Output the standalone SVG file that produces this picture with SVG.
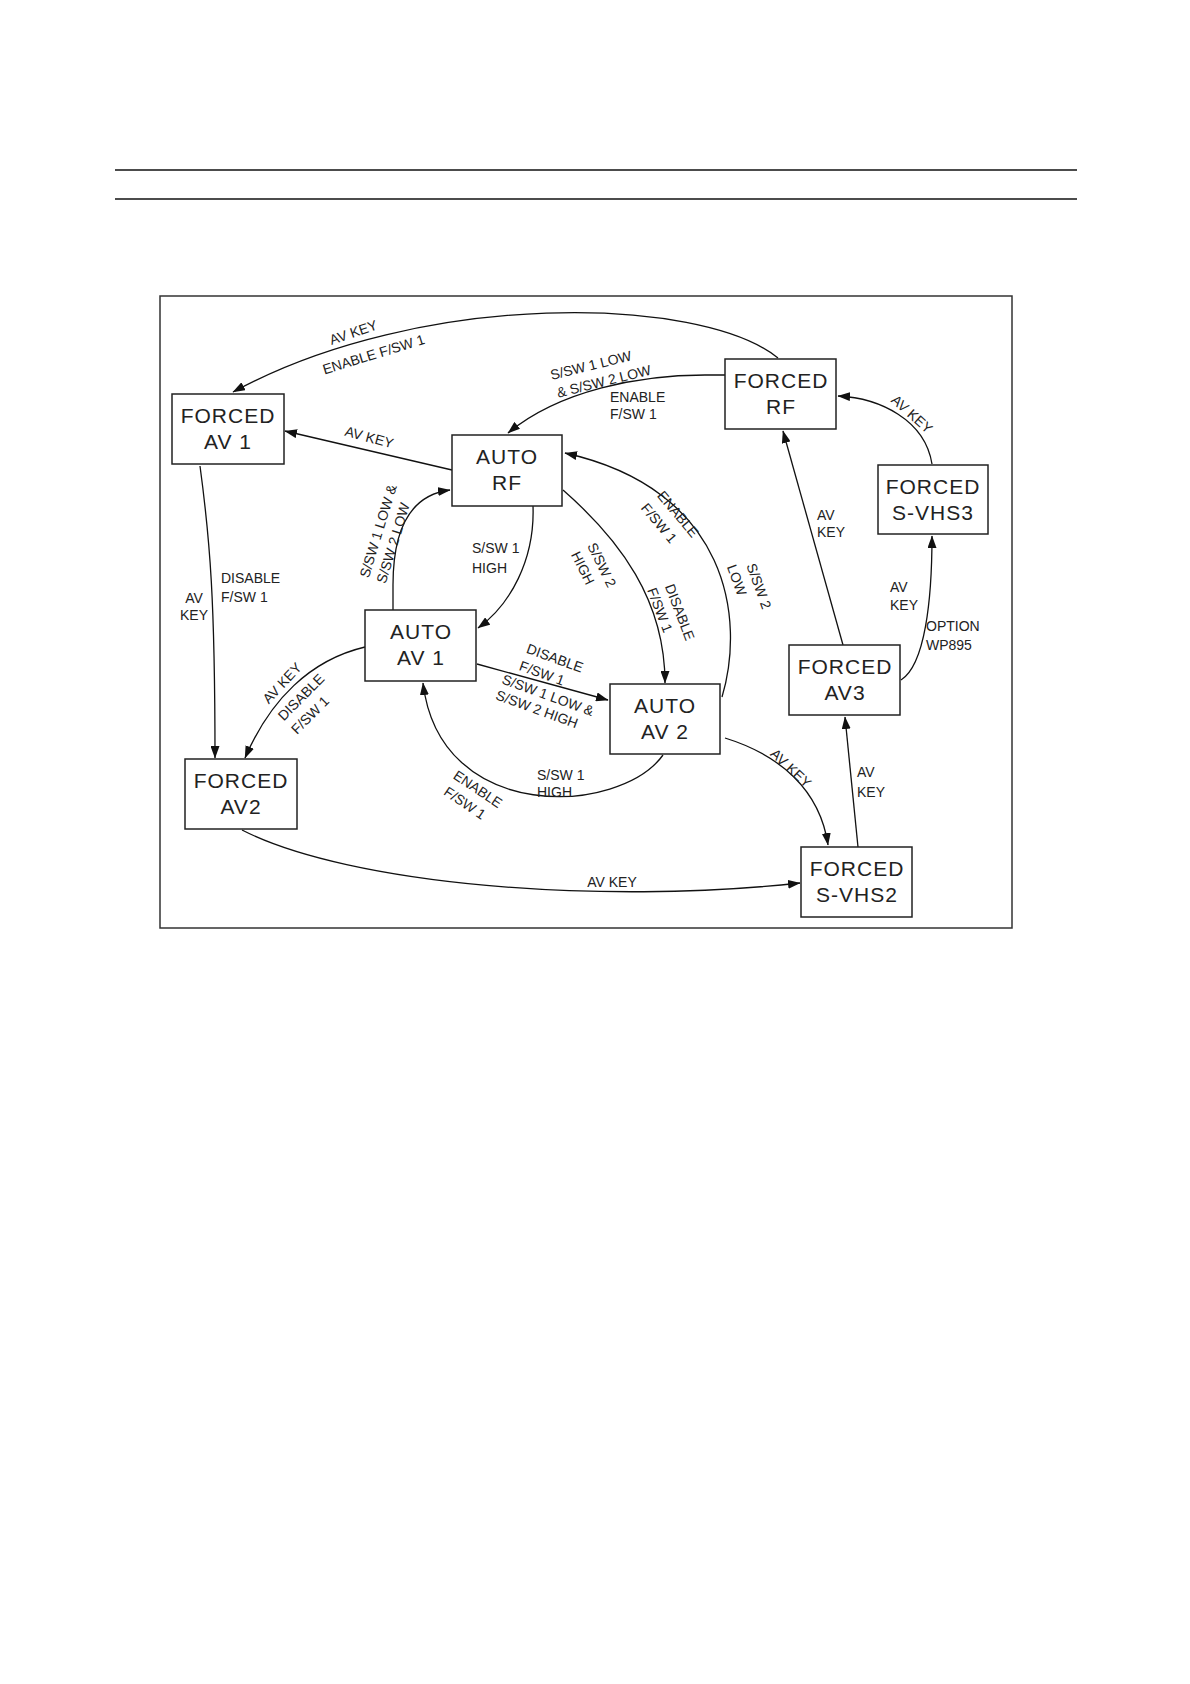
<svg xmlns="http://www.w3.org/2000/svg" width="1190" height="1684" viewBox="0 0 1190 1684">
<defs>
<marker id="ah" markerWidth="13" markerHeight="9" refX="12" refY="4.5" orient="auto" markerUnits="userSpaceOnUse">
<path d="M0,0 L12.5,4.5 L0,9 z" fill="#111"/>
</marker>
<style>
.box{fill:#fff;stroke:#222;stroke-width:1.5}
.bt{font-family:"Liberation Sans",Arial,sans-serif;font-size:21px;letter-spacing:1px;fill:#222;text-anchor:middle}
.c{fill:none;stroke:#111;stroke-width:1.3;marker-end:url(#ah)}
.l{font-family:"Liberation Sans",Arial,sans-serif;font-size:14px;fill:#222}
.m{text-anchor:middle}
</style>
</defs>
<rect width="1190" height="1684" fill="#fff"/>
<line x1="115" y1="170" x2="1077" y2="170" stroke="#111" stroke-width="1.4"/>
<line x1="115" y1="199" x2="1077" y2="199" stroke="#111" stroke-width="1.4"/>
<rect x="160" y="296" width="852" height="632" fill="none" stroke="#333" stroke-width="1.5"/>

<g id="connectors">
<path class="c" d="M778,358 C700,295 420,290 233,392"/>
<path class="c" d="M725,375 L705,375 C640,375 560,390 508,433"/>
<path class="c" d="M452,470 L285,431"/>
<path class="c" d="M393,610 L393,585 C393,530 410,495 450,490"/>
<path class="c" d="M533,506 C535,560 510,605 478,628"/>
<path class="c" d="M563,490 C620,540 665,600 665,683"/>
<path class="c" d="M722,697 C745,620 730,490 565,453"/>
<path class="c" d="M477,664 L608,700"/>
<path class="c" d="M663,755 C620,815 440,825 423,683"/>
<path class="c" d="M200,466 C210,540 215,600 215,758"/>
<path class="c" d="M365,647 C310,660 270,700 245,758"/>
<path class="c" d="M242,830 C350,885 600,905 800,883"/>
<path class="c" d="M725,738 C780,755 820,790 828,845"/>
<path class="c" d="M858,847 L845,717"/>
<path class="c" d="M843,645 L783,431"/>
<path class="c" d="M901,680 C925,665 932,600 932,536"/>
<path class="c" d="M932,464 C925,420 880,398 838,396"/>

<text class="l m" transform="translate(355,337) rotate(-19)">AV KEY</text>
<text class="l m" transform="translate(375,359) rotate(-17)">ENABLE F/SW 1</text>
<text class="l m" transform="translate(592,370) rotate(-14)">S/SW 1 LOW</text>
<text class="l m" transform="translate(605,386) rotate(-14)">&amp; S/SW 2 LOW</text>
<text class="l" x="610" y="402">ENABLE</text>
<text class="l" x="610" y="419">F/SW 1</text>
<text class="l m" transform="translate(368,442) rotate(15)">AV KEY</text>
<text class="l m" transform="translate(378,531) rotate(-73) translate(0,5)">S/SW 1 LOW &amp;</text>
<text class="l m" transform="translate(393,543) rotate(-73) translate(0,5)">S/SW 2 LOW</text>
<text class="l" x="472" y="553">S/SW 1</text>
<text class="l" x="472" y="573">HIGH</text>
<text class="l m" transform="translate(602,565) rotate(64) translate(0,5)">S/SW 2</text>
<text class="l m" transform="translate(583,568) rotate(64) translate(0,5)">HIGH</text>
<text class="l m" transform="translate(680,612) rotate(69) translate(0,5)">DISABLE</text>
<text class="l m" transform="translate(660,610) rotate(69) translate(0,5)">F/SW 1</text>
<text class="l m" transform="translate(678,514) rotate(50) translate(0,5)">ENABLE</text>
<text class="l m" transform="translate(659,523) rotate(50) translate(0,5)">F/SW 1</text>
<text class="l m" transform="translate(759,586) rotate(70) translate(0,5)">S/SW 2</text>
<text class="l m" transform="translate(737,580) rotate(70) translate(0,5)">LOW</text>
<text class="l m" transform="translate(555,658) rotate(20) translate(0,5)">DISABLE</text>
<text class="l m" transform="translate(542,673) rotate(20) translate(0,5)">F/SW 1</text>
<text class="l m" transform="translate(548,695) rotate(20) translate(0,5)">S/SW 1 LOW &amp;</text>
<text class="l m" transform="translate(537,709) rotate(20) translate(0,5)">S/SW 2 HIGH</text>
<text class="l" x="537" y="780">S/SW 1</text>
<text class="l" x="537" y="797">HIGH</text>
<text class="l m" transform="translate(478,789) rotate(34) translate(0,5)">ENABLE</text>
<text class="l m" transform="translate(465,803) rotate(34) translate(0,5)">F/SW 1</text>
<text class="l m" x="194" y="603">AV</text>
<text class="l m" x="194" y="620">KEY</text>
<text class="l" x="221" y="583">DISABLE</text>
<text class="l" x="221" y="602">F/SW 1</text>
<text class="l m" transform="translate(282,683) rotate(-47) translate(0,5)">AV KEY</text>
<text class="l m" transform="translate(301,697) rotate(-45) translate(0,5)">DISABLE</text>
<text class="l m" transform="translate(310,715) rotate(-45) translate(0,5)">F/SW 1</text>
<text class="l m" x="612" y="887">AV KEY</text>
<text class="l m" transform="translate(791,768) rotate(43) translate(0,5)">AV KEY</text>
<text class="l" x="857" y="777">AV</text>
<text class="l" x="857" y="797">KEY</text>
<text class="l" x="817" y="520">AV</text>
<text class="l" x="817" y="537">KEY</text>
<text class="l" x="890" y="592">AV</text>
<text class="l" x="890" y="610">KEY</text>
<text class="l" x="926" y="631">OPTION</text>
<text class="l" x="926" y="650">WP895</text>
<text class="l m" transform="translate(912,414) rotate(42) translate(0,5)">AV KEY</text>
</g>

<g id="forced-av1"><rect class="box" x="172" y="394" width="112" height="70"/><text class="bt" x="228" y="423">FORCED</text><text class="bt" x="228" y="449">AV 1</text></g>
<g id="auto-rf"><rect class="box" x="452" y="435" width="110" height="71"/><text class="bt" x="507" y="464">AUTO</text><text class="bt" x="507" y="490">RF</text></g>
<g id="forced-rf"><rect class="box" x="725" y="359" width="111" height="70"/><text class="bt" x="781" y="388">FORCED</text><text class="bt" x="781" y="414">RF</text></g>
<g id="forced-svhs3"><rect class="box" x="878" y="465" width="110" height="69"/><text class="bt" x="933" y="494">FORCED</text><text class="bt" x="933" y="520">S-VHS3</text></g>
<g id="auto-av1"><rect class="box" x="365" y="610" width="111" height="71"/><text class="bt" x="421" y="639">AUTO</text><text class="bt" x="421" y="665">AV 1</text></g>
<g id="auto-av2"><rect class="box" x="610" y="684" width="110" height="70"/><text class="bt" x="665" y="713">AUTO</text><text class="bt" x="665" y="739">AV 2</text></g>
<g id="forced-av3"><rect class="box" x="789" y="645" width="111" height="70"/><text class="bt" x="845" y="674">FORCED</text><text class="bt" x="845" y="700">AV3</text></g>
<g id="forced-av2"><rect class="box" x="185" y="759" width="112" height="70"/><text class="bt" x="241" y="788">FORCED</text><text class="bt" x="241" y="814">AV2</text></g>
<g id="forced-svhs2"><rect class="box" x="801" y="847" width="111" height="70"/><text class="bt" x="857" y="876">FORCED</text><text class="bt" x="857" y="902">S-VHS2</text></g>
</svg>
